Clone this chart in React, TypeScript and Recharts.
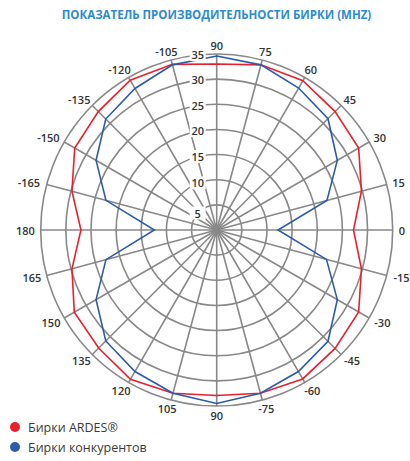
import { RadarChart, Radar, PolarGrid, PolarAngleAxis, PolarRadiusAxis } from 'recharts'

const angleLabels = ['90', '75', '60', '45', '30', '15', '0', '-15', '-30', '-45', '-60', '-75',
  '90', '105', '120', '135', '150', '165', '180', '-165', '-150', '-135', '-120', '-105']
const ardes = [33.0, 34.0, 34.3, 33.3, 32.6, 29.8, 27.2, 29.8, 32.6, 33.3, 34.2, 33.6,
  32.9, 33.6, 34.3, 33.2, 32.7, 29.8, 27.0, 29.8, 32.6, 33.3, 34.4, 34.1]
const competitors = [34.6, 34.0, 32.6, 31.3, 27.7, 22.7, 12.2, 22.6, 27.7, 31.3, 32.5, 33.6,
  34.5, 33.6, 32.5, 31.2, 27.7, 22.8, 12.4, 22.8, 27.7, 31.2, 32.5, 34.0]
const radiusTicks = [5, 10, 15, 20, 25, 30, 35]

const data = angleLabels.map((label, i) => ({
  id: i,
  label,
  ardes: ardes[i],
  competitors: competitors[i],
}))

const CX = 216.7
const CY = 230
const OUTER = 176
const FONT = '"Open Sans", sans-serif'

function AngleTick(props: any) {
  const { x, y, payload } = props
  const dx = x - CX
  const dy = y - CY
  const len = Math.hypot(dx, dy) || 1
  const ux = dx / len
  const uy = dy / len
  const label = angleLabels[payload.value] ?? ''
  const w = label.length * 6.2
  const r = OUTER + 6
  const tx = CX + ux * r + ux * w / 2
  const ty = CY + uy * r + uy * 3
  return (
    <text x={tx} y={ty} textAnchor="middle" dominantBaseline="central"
      fontFamily={FONT} fontSize={11} fontWeight={600} fill="#333">
      {label}
    </text>
  )
}

// labels sit on each ring a little left of the vertical spoke
function RadiusTick(props: any) {
  const { x, y, payload } = props
  const r = CY - y
  const off = 19
  const tx = x - off
  const ty = CY - Math.sqrt(Math.max(r * r - off * off, 0)) - 1
  return (
    <g>
      <rect x={tx - 8} y={ty - 6} width={16} height={13} fill="#fff" />
      <text x={tx} y={ty + 0.5} textAnchor="middle" dominantBaseline="central"
        fontFamily={FONT} fontSize={11} fontWeight={600} fill="#333">
        {payload.value}
      </text>
    </g>
  )
}

export default function App() {
  return (
    <div style={{ position: 'absolute', left: 0, top: 0, width: 410, height: 461, background: '#fff' }}>
      <div style={{
        position: 'absolute', left: 0, top: 8, width: 433, textAlign: 'center',
        fontFamily: FONT, fontWeight: 700, fontSize: 11.5, color: '#2e8bcb', lineHeight: '14px',
      }}>
        ПОКАЗАТЕЛЬ ПРОИЗВОДИТЕЛЬНОСТИ БИРКИ (MHZ)
      </div>
      <RadarChart width={410} height={461} data={data} cx={CX} cy={CY} outerRadius={OUTER}
        margin={{ top: 0, right: 0, bottom: 0, left: 0 }}>
        <PolarGrid gridType="circle" stroke="#888" strokeWidth={1.6} />
        <PolarAngleAxis dataKey="id" type="category" axisLine={false} tickLine={false} tick={<AngleTick />} />
        <PolarRadiusAxis angle={90} type="number" domain={[0, 35]} ticks={radiusTicks} tickCount={8}
          axisLine={false} tickLine={false} tick={<RadiusTick />} />
        <Radar dataKey="ardes" stroke="#e8202e" strokeWidth={1.6} fill="none" fillOpacity={0}
          dot={false} isAnimationActive={false} />
        <Radar dataKey="competitors" stroke="#2c5ba9" strokeWidth={1.6} fill="none" fillOpacity={0}
          dot={false} isAnimationActive={false} />
      </RadarChart>
      {[
        { name: 'Бирки ARDES®', color: '#e8202e', top: 427 },
        { name: 'Бирки конкурентов', color: '#2c5ba9', top: 447 },
      ].map(item => (
        <div key={item.name} style={{ position: 'absolute', left: 10, top: item.top - 8, height: 16, display: 'flex', alignItems: 'center' }}>
          <span style={{ width: 10, height: 10, borderRadius: 5, background: item.color, display: 'inline-block', marginRight: 8 }} />
          <span style={{ fontFamily: FONT, fontSize: 12.5, color: '#3a3a3a' }}>{item.name}</span>
        </div>
      ))}
    </div>
  )
}
